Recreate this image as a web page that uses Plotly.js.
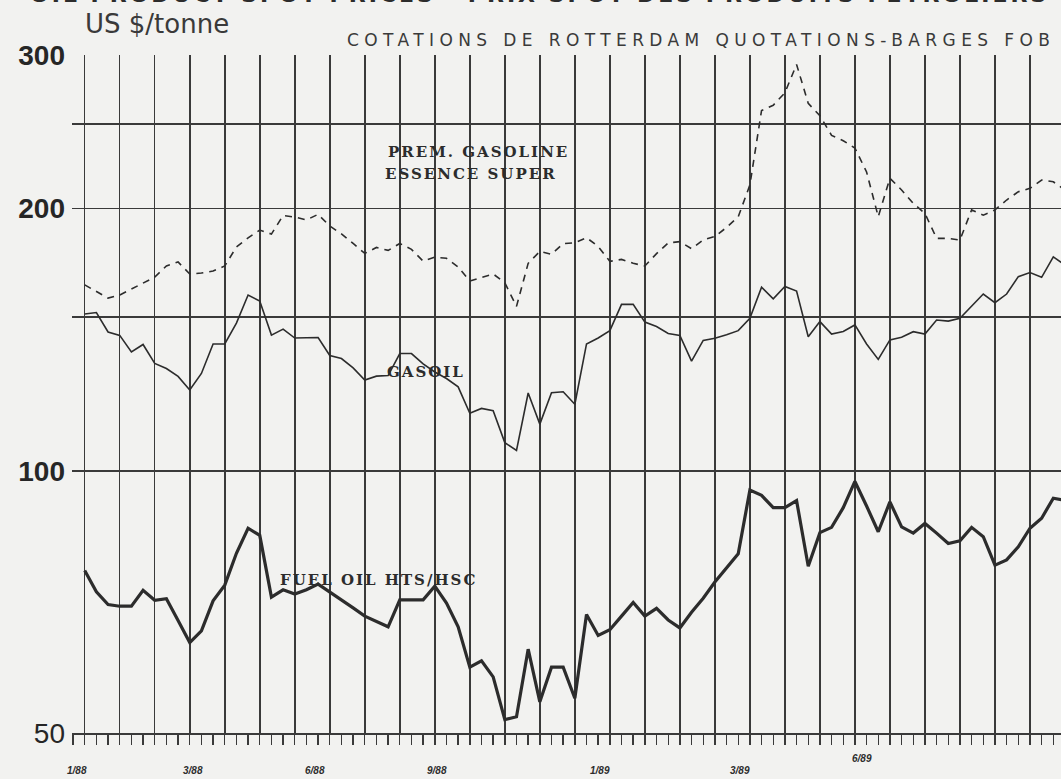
<!DOCTYPE html>
<html>
<head>
<meta charset="utf-8">
<script src="https://cdn.plot.ly/plotly-3.0.1.min.js"></script>
<style>
  html, body { margin: 0; padding: 0; background: #f2f2f0; }
  #chart { width: 1061px; height: 779px; }
</style>
</head>
<body>
<div id="chart"></div>
<script>
// Period index (one point per tick on the time axis; a vertical grid line every 3 ticks)
const period = [];
for (let k = 0; k <= 84; k++) period.push(k);

// US $/tonne, Rotterdam barges FOB
const gasoline = [163.4,160.4,157.8,159.1,161.6,164.2,166.8,171.8,173.6,168.2,
  168.6,169.5,171.8,180.6,185.0,188.9,186.9,196.3,195.5,194.0,
  196.9,190.9,187.0,182.3,177.6,180.4,179.0,182.3,179.5,174.0,
  175.8,175.3,171.3,165.1,166.5,168.2,164.3,154.4,173.0,178.5,
  177.2,182.2,182.6,185.1,180.9,173.9,174.8,173.0,171.8,177.5,
  182.6,183.2,179.8,184.0,185.7,190.2,195.6,212.8,259.1,262.7,
  271.5,292.6,264.0,255.5,242.6,239.2,234.6,220.2,195.7,216.6,
  210.0,202.7,197.4,184.8,184.8,184.0,199.2,196.5,199.2,204.5,
  209.0,210.9,215.6,214.6,210.0];

const gasoil = [151.3,151.9,144.3,143.0,136.9,139.6,132.8,131.0,128.3,123.8,
  129.3,139.8,139.8,147.7,159.1,156.6,143.1,145.4,142.0,142.0,
  142.2,135.6,134.5,131.2,127.1,128.4,128.6,136.3,136.3,132.6,
  129.8,127.6,124.8,116.4,117.9,117.2,107.7,105.5,122.8,113.1,
  122.9,123.2,119.2,139.8,142.0,144.8,155.2,155.2,148.1,146.4,
  143.7,143.0,133.6,141.1,141.9,143.2,144.8,149.6,162.4,157.5,
  162.7,160.8,142.5,148.3,143.5,144.5,147.0,139.8,134.2,141.3,
  142.3,144.4,143.5,148.9,148.5,149.6,154.3,159.5,155.9,159.5,
  167.0,168.8,166.7,176.0,172.2];

const fuelOil = [76.8,72.6,70.2,69.9,69.9,72.9,71.0,71.3,67.3,63.5,
  65.5,70.9,73.9,80.4,85.9,84.3,71.6,73.0,72.2,73.0,
  74.1,72.6,71.1,69.6,68.1,67.2,66.2,71.1,71.1,71.1,
  73.7,70.5,66.2,59.5,60.5,58.0,51.8,52.2,62.4,54.3,
  59.5,59.5,54.8,68.4,64.7,65.7,68.1,70.6,68.1,69.5,
  67.4,66.0,68.8,71.4,74.5,77.3,80.3,95.0,93.7,90.7,
  90.7,92.4,77.7,84.9,86.1,90.7,97.2,91.1,85.1,92.1,
  86.2,84.8,87.0,84.8,82.5,83.1,86.1,84.0,77.9,79.0,
  81.8,85.9,88.2,93.0,92.5];

// Date labels on the time axis and their period positions
const dateLabels = ['1/88','3/88','6/88','9/88','1/89','3/89','6/89'];
const datePos = [-0.66, 9.28, 19.73, 30.19, 44.16, 56.15, 66.6];
const dateRaised = [false, false, false, false, false, false, true];

// Y axis ticks (log scale)
const yTicks = [50, 100, 150, 200, 250, 300];
const yTickText = ['50', '<b>100</b>', '', '<b>200</b>', '', '<b>300</b>'];

const ink = '#2c2c2c';
const grid = '#3a3a3a';
const traces = [
  { x: period, y: gasoline, type: 'scatter', mode: 'lines', name: 'PREM. GASOLINE',
    line: { color: ink, width: 1.6, dash: '7px,6px' } },
  { x: period, y: gasoil, type: 'scatter', mode: 'lines', name: 'GASOIL',
    line: { color: ink, width: 1.6 } },
  { x: period, y: fuelOil, type: 'scatter', mode: 'lines', name: 'FUEL OIL HTS/HSC',
    line: { color: ink, width: 3.2 } }
];

const annotations = [
  { xref: 'paper', yref: 'paper', x: 0.473, y: 1.089, xanchor: 'center', yanchor: 'middle',
    text: '<span style="letter-spacing:3px">OIL PRODUCT SPOT PRICES   PRIX SPOT DES PRODUITS PETROLIERS</span>',
    showarrow: false, font: { family: 'DejaVu Sans', size: 22, color: ink, weight: 'bold' } },
  { xref: 'paper', yref: 'paper', x: 0.011, y: 1.046, xanchor: 'left', yanchor: 'middle',
    text: 'US $/tonne', showarrow: false,
    font: { family: 'DejaVu Sans', size: 26, color: '#3a3a3a' } },
  { xref: 'paper', yref: 'paper', x: 0.996, y: 1.022, xanchor: 'right', yanchor: 'middle',
    text: '<span style="letter-spacing:5.4px">COTATIONS DE ROTTERDAM QUOTATIONS-BARGES FOB</span>',
    showarrow: false, font: { family: 'DejaVu Sans', size: 17, color: '#3a3a3a' } },
  { xref: 'paper', yref: 'paper', x: 0.3175, y: 0.857, xanchor: 'left', yanchor: 'middle',
    text: '<span style="letter-spacing:2px">PREM. GASOLINE</span>', showarrow: false,
    font: { family: 'DejaVu Serif', size: 15, color: ink, weight: 'bold' } },
  { xref: 'paper', yref: 'paper', x: 0.3145, y: 0.8245, xanchor: 'left', yanchor: 'middle',
    text: '<span style="letter-spacing:2px">ESSENCE SUPER</span>', showarrow: false,
    font: { family: 'DejaVu Serif', size: 15, color: ink, weight: 'bold' } },
  { xref: 'paper', yref: 'paper', x: 0.3165, y: 0.5324, xanchor: 'left', yanchor: 'middle',
    text: '<span style="letter-spacing:2px">GASOIL</span>', showarrow: false,
    font: { family: 'DejaVu Serif', size: 15, color: ink, weight: 'bold' } },
  { xref: 'paper', yref: 'paper', x: 0.2083, y: 0.2257, xanchor: 'left', yanchor: 'middle',
    text: '<span style="letter-spacing:2px">FUEL OIL HTS/HSC</span>', showarrow: false,
    font: { family: 'DejaVu Serif', size: 15, color: ink, weight: 'bold' } }
];

dateLabels.forEach((lab, k) => {
  annotations.push({
    xref: 'x', yref: 'paper', x: datePos[k], y: dateRaised[k] ? -0.037 : -0.056,
    xanchor: 'center', yanchor: 'middle', text: '<b><i>' + lab + '</i></b>', showarrow: false,
    font: { family: 'Liberation Sans', size: 10, color: ink }
  });
});

const layout = {
  width: 1061, height: 779,
  margin: { l: 72, r: 0, t: 55, b: 46, pad: 0 },
  paper_bgcolor: '#f2f2f0', plot_bgcolor: '#f2f2f0',
  showlegend: false,
  xaxis: {
    range: [-1.09, 83.66], tickmode: 'linear', tick0: 0, dtick: 3,
    showgrid: true, gridcolor: grid, gridwidth: 1.5,
    zeroline: false, showticklabels: false,
    ticks: 'outside', ticklen: 10, tickwidth: 1.4, tickcolor: grid,
    minor: { tick0: 0, dtick: 1, ticks: 'outside', ticklen: 10, tickwidth: 1.4, tickcolor: grid, showgrid: false },
    showline: true, linecolor: grid, linewidth: 1.6
  },
  yaxis: {
    type: 'log', range: [Math.log10(50), Math.log10(300)],
    tickmode: 'array', tickvals: yTicks, ticktext: yTickText,
    showgrid: true, gridcolor: grid, gridwidth: 1.6,
    zeroline: false, ticks: '', showline: false,
    ticklabelstandoff: 6,
    tickfont: { family: 'Liberation Sans', size: 28, color: '#262626' }
  },
  annotations: annotations
};

Plotly.newPlot('chart', traces, layout, { staticPlot: true, displayModeBar: false });
</script>
</body>
</html>
